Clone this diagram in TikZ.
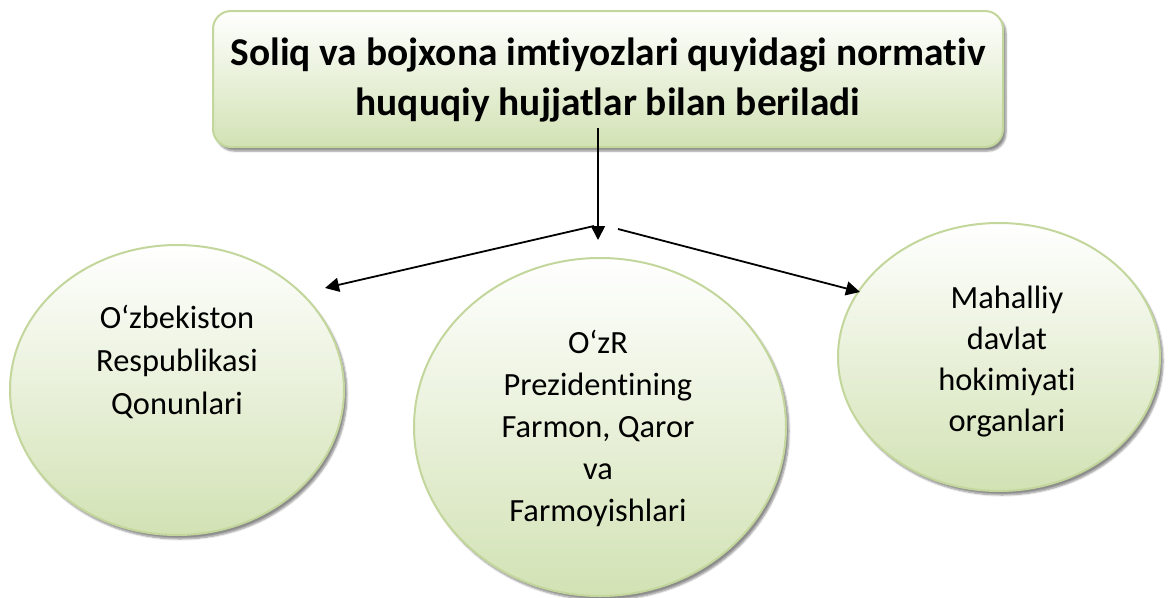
\documentclass[tikz,border=0pt]{standalone}
\usepackage{fontspec}
\setmainfont{Carlito}[Ligatures={NoCommon}]
\usetikzlibrary{shadows.blur,arrows.meta,shapes.geometric}
\definecolor{gOut}{HTML}{C3D69B}
\definecolor{gFill}{HTML}{D2E2B4}
\tikzset{
  greenshape/.style={draw=gOut, line width=2pt, top color=white, bottom color=gFill,
    blur shadow={shadow xshift=3pt, shadow yshift=-4pt, shadow blur steps=6, shadow opacity=45}},
  bubble/.style={greenshape, ellipse, inner sep=0pt},
  bubbletext/.style={align=center, font=\fontsize{32.4}{43}\selectfont},
  conn/.style={line width=1.8pt, -{Triangle[length=14pt,width=14pt]}},
}
\begin{document}
\begin{tikzpicture}[x=1pt,y=1pt]
\useasboundingbox (0,0) rectangle (1169,-597);
\node[greenshape, rounded corners=18pt, minimum width=790pt, minimum height=136pt, inner sep=0pt]
  (top) at (608,-79) {};
\node[align=center, font=\bfseries\fontsize{39.4}{50}\selectfont] (toptext) at (608,-80)
  {Soliq va bojxona imtiyozlari quyidagi normativ\\huquqiy hujjatlar bilan beriladi};
\node[bubble, minimum width=334pt, minimum height=290pt] (left) at (177,-390) {};
\node[bubble, minimum width=372pt, minimum height=338pt] (mid) at (600,-427) {};
\node[bubble, minimum width=322pt, minimum height=268pt] (right) at (999,-357) {};
\node[bubbletext] (lefttext) at (177,-362) {O‘zbekiston\\Respublikasi\\Qonunlari};
\node[bubbletext, font=\fontsize{32.4}{42}\selectfont] (midtext) at (598,-428) {O‘zR\\Prezidentining\\Farmon, Qaror\\va\\Farmoyishlari};
\node[bubbletext, font=\fontsize{32.4}{41}\selectfont] (righttext) at (1007,-362) {Mahalliy\\davlat\\hokimiyati\\organlari};
\coordinate (vstart) at (598,-128);
\coordinate (vend) at (598,-240);
\coordinate (lstart) at (594,-226);
\coordinate (lend) at (325,-288);
\coordinate (rstart) at (618,-229);
\coordinate (rend) at (860,-292);
\draw[conn] (vstart) -- (vend);
\draw[conn] (lstart) -- (lend);
\draw[conn] (rstart) -- (rend);
\end{tikzpicture}
\end{document}
